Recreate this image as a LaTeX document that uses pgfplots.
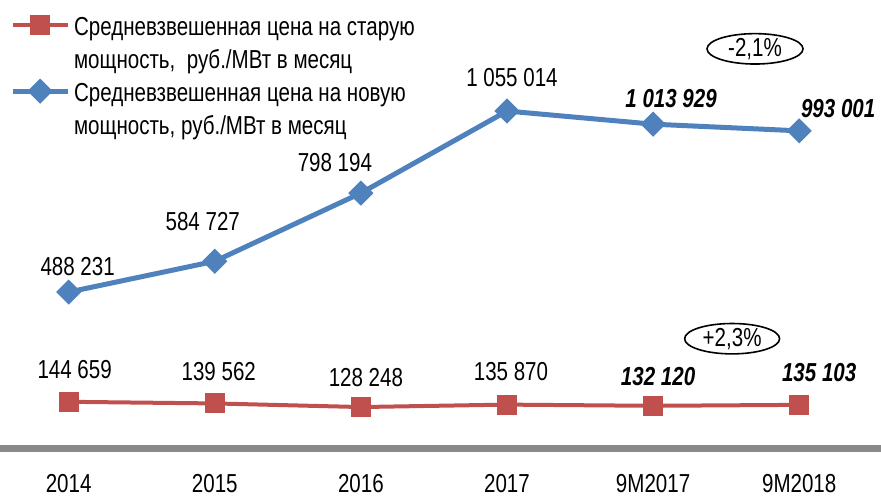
\documentclass[border=0pt]{standalone}
\usepackage{pgfplots}
\pgfplotsset{compat=1.18}
\usepackage{fontspec}
\setmainfont{Liberation Sans}[FakeStretch=0.79]
\usetikzlibrary{shapes.geometric}
\definecolor{oldCol}{RGB}{192,80,77}
\definecolor{newCol}{RGB}{79,129,189}
\definecolor{baseCol}{RGB}{137,137,137}
\newcommand\lblfont{\fontsize{13}{16.5}\selectfont}
\tikzset{
  lbl/.style={font=\lblfont, inner sep=0pt, anchor=center},
  bl/.style={lbl, font=\lblfont\bfseries\itshape},
  badge/.style={ellipse, draw, line width=0.8pt, inner sep=0pt, font=\lblfont},
}

\begin{document}
\begin{tikzpicture}
\begin{axis}[
  scale only axis, width=440.5pt, height=224pt,
  xmin=-0.47, xmax=5.56, ymin=0, ymax=1402700,
  axis y line=none, axis x line=bottom,
  x axis line style={draw=baseCol, line width=3.5pt, -},
  xtick={0,...,5}, xticklabels={2014,2015,2016,2017,9M2017,9M2018},
  major tick length=0pt,
  xticklabel style={font=\lblfont, yshift=-9.5pt},
  clip=false,
  legend cell align=left,
  legend style={at={(0.011,0.983)}, anchor=north west, draw=none, fill=none,
    font=\lblfont, inner sep=0pt, row sep=16pt,
    /tikz/every even column/.append style={column sep=1.5pt}},
  legend image code/.code={\draw[mark repeat=2,mark phase=2,#1]
    plot coordinates {(0pt,0pt) (13.75pt,0pt) (27.5pt,0pt)};},
]
\addplot[oldCol, line width=2pt, mark=square*, mark size=4pt]
  coordinates {(0,144659) (1,139562) (2,128248) (3,135870) (4,132120) (5,135103)};
\addlegendentry{\begin{tabular}[t]{@{}l@{}}Средневзвешенная цена на старую\\мощность,\ \ руб./МВт в месяц\end{tabular}}
\addplot[newCol, line width=2.5pt, mark=square*, mark size=3.2pt, mark options={rotate=45}]
  coordinates {(0,488231) (1,584727) (2,798194) (3,1055014) (4,1013929) (5,993001)};
\addlegendentry{\begin{tabular}[t]{@{}l@{}}Средневзвешенная цена на новую\\мощность, руб./МВт в месяц\end{tabular}}

% data labels, new capacity
\node[lbl, xshift=4.5pt,  yshift=13pt]   at (axis cs:0,488231)  {488 231};
\node[lbl, xshift=-6pt,   yshift=20pt]   at (axis cs:1,584727)  {584 727};
\node[lbl, xshift=-13pt,  yshift=15.5pt] at (axis cs:2,798194)  {798 194};
\node[lbl, xshift=2.5pt,  yshift=17pt]   at (axis cs:3,1055014) {1 055 014};
\node[bl,  xshift=9pt,    yshift=13pt]   at (axis cs:4,1013929) {1 013 929};
\node[bl,  xshift=19.5pt, yshift=11pt]   at (axis cs:5,993001)  {993 001};
% data labels, old capacity
\node[lbl, xshift=3pt,    yshift=16pt]   at (axis cs:0,144659) {144 659};
\node[lbl, xshift=2pt,    yshift=16pt]   at (axis cs:1,139562) {139 562};
\node[lbl, xshift=2.5pt,  yshift=15pt]   at (axis cs:2,128248) {128 248};
\node[lbl, xshift=2pt,    yshift=16.5pt] at (axis cs:3,135870) {135 870};
\node[bl,  xshift=2.5pt,  yshift=14.5pt] at (axis cs:4,132120) {132 120};
\node[bl,  xshift=10pt,   yshift=16pt]   at (axis cs:5,135103) {135 103};

% change badges
\node[badge, minimum width=48pt, minimum height=14pt] at (rel axis cs:0.857,0.891) {-2,1\%};
\node[badge, minimum width=47.5pt, minimum height=13.5pt] at (rel axis cs:0.831,0.244) {+2,3\%};
\end{axis}
\pgfresetboundingbox
\path (current axis.south west) ++(0,-23.5pt) rectangle (current axis.north east);
\end{tikzpicture}
\end{document}
